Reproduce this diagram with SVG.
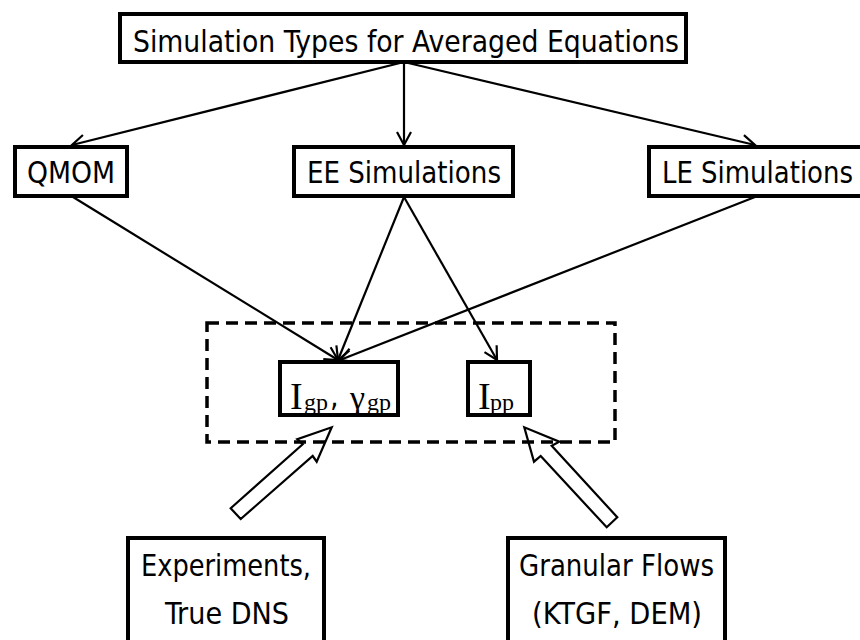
<svg xmlns="http://www.w3.org/2000/svg" width="860" height="640" viewBox="0 0 860 640">
  <defs>
    <style>
      .box { fill: #fff; stroke: #000; stroke-width: 4; }
      .lbl { font-family: "DejaVu Sans Condensed", "DejaVu Sans", sans-serif; font-stretch: condensed; font-size: 30px; fill: #000; text-anchor: start; }
      .ser { font-family: "Liberation Serif", "Times New Roman", serif; fill: #000; }
      .conn { stroke: #000; stroke-width: 2.2; fill: none; marker-end: url(#v); }
      .block { stroke: #000; stroke-width: 2.2; fill: none; stroke-linejoin: miter; }
      .dash { fill: none; stroke: #000; stroke-width: 3.5; stroke-dasharray: 12 7; }
    </style>
    <marker id="v" markerUnits="userSpaceOnUse" markerWidth="20" markerHeight="20" refX="0" refY="0" viewBox="-16 -10 20 20" orient="auto">
      <path d="M -13 -7 L 0 0 L -13 7" fill="none" stroke="#000" stroke-width="2.2"/>
    </marker>
  </defs>
  <rect width="860" height="640" fill="#fff"/>

  <g id="connectors">
    <line class="conn" x1="404" y1="62" x2="72" y2="145"/>
    <line class="conn" x1="404" y1="62" x2="404" y2="145"/>
    <line class="conn" x1="404" y1="62" x2="755" y2="145"/>
    <line class="conn" x1="73" y1="197" x2="338" y2="360"/>
    <line class="conn" x1="404" y1="197" x2="338" y2="360"/>
    <line class="conn" x1="404" y1="197" x2="497" y2="360"/>
    <line class="conn" x1="755" y1="197" x2="340" y2="360"/>
    <polygon class="block" points="230.7,508.3 302.7,444.3 297.3,439.3 331.7,427.3 316.7,461.7 312.7,456 240.7,519"/>
    <polygon class="block" points="617.3,517.3 551.7,445.7 559.3,441.7 524.3,427.3 534,461.7 540.7,456 606.7,527.3"/>
  </g>

  <g id="group-box">
    <rect class="dash" x="207" y="323" width="408" height="119"/>
  </g>

  <g id="top">
    <rect class="box" x="120" y="14" width="566" height="48"/>
    <text class="lbl" x="133" y="52" font-size="33" textLength="546" lengthAdjust="spacingAndGlyphs">Simulation Types for Averaged Equations</text>
  </g>

  <g id="qmom">
    <rect class="box" x="15" y="147" width="112" height="49"/>
    <text class="lbl" x="27" y="183" textLength="88" lengthAdjust="spacingAndGlyphs">QMOM</text>
  </g>

  <g id="ee">
    <rect class="box" x="294" y="147" width="219" height="49"/>
    <text class="lbl" x="307" y="183" textLength="194" lengthAdjust="spacingAndGlyphs">EE Simulations</text>
  </g>

  <g id="le">
    <rect class="box" x="649" y="147" width="216" height="49"/>
    <text class="lbl" x="662" y="183" textLength="191" lengthAdjust="spacingAndGlyphs">LE Simulations</text>
  </g>

  <g id="igp">
    <rect class="box" x="280" y="362" width="118" height="53"/>
    <text y="409">
      <tspan class="ser" x="290" font-size="38">I</tspan><tspan class="ser" x="304" y="410" font-size="24">gp</tspan><tspan class="lbl" x="330" y="406" font-size="30">,</tspan><tspan class="ser" x="350" y="409" font-size="34">γ</tspan><tspan class="ser" x="367" y="410" font-size="24">gp</tspan>
    </text>
  </g>

  <g id="ipp">
    <rect class="box" x="468" y="362" width="62" height="53"/>
    <text y="409">
      <tspan class="ser" x="478" font-size="38">I</tspan><tspan class="ser" x="490" y="410" font-size="24">pp</tspan>
    </text>
  </g>

  <g id="experiments">
    <rect class="box" x="128" y="538" width="196" height="110"/>
    <text class="lbl" x="141" y="576" textLength="170" lengthAdjust="spacingAndGlyphs">Experiments,</text>
    <text class="lbl" x="165" y="624" textLength="124" lengthAdjust="spacingAndGlyphs">True DNS</text>
  </g>

  <g id="granular">
    <rect class="box" x="508" y="538" width="217" height="110"/>
    <text class="lbl" x="519" y="576" textLength="195" lengthAdjust="spacingAndGlyphs">Granular Flows</text>
    <text class="lbl" x="532" y="624" textLength="170" lengthAdjust="spacingAndGlyphs">(KTGF, DEM)</text>
  </g>
</svg>
